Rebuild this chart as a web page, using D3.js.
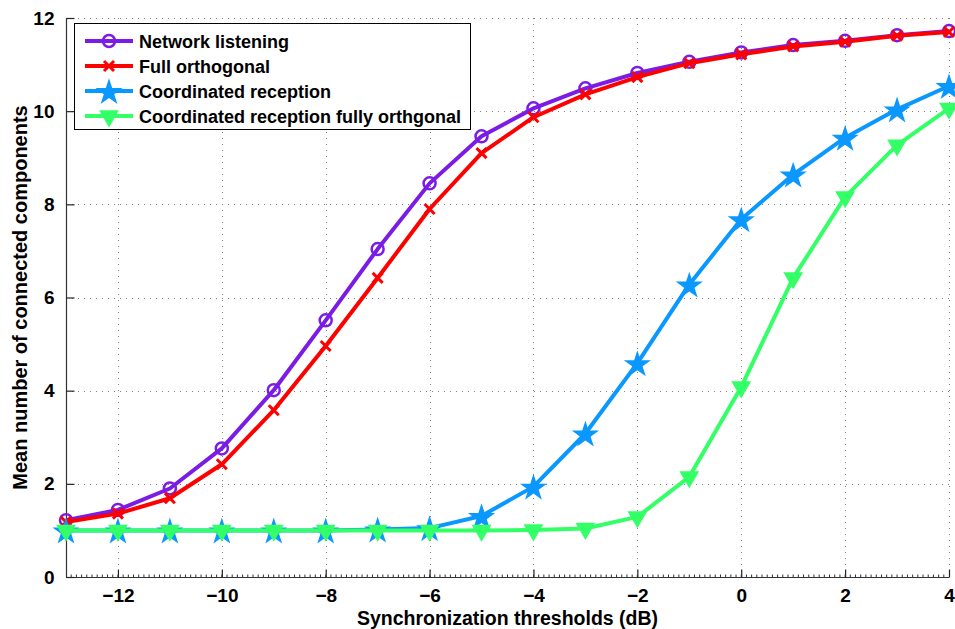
<!DOCTYPE html>
<html>
<head>
<meta charset="utf-8">
<script src="https://cdn.jsdelivr.net/npm/d3@7"></script>
<style>
  body { margin: 0; background: #fff; }
  text { font-family: "Liberation Sans", Arial, sans-serif; font-weight: bold; }
</style>
</head>
<body>
<svg id="chart" width="955" height="629"></svg>
<script>
// data
var thresholds = [-13, -12, -11, -10, -9, -8, -7, -6, -5, -4, -3, -2, -1, 0, 1, 2, 3, 4];

var networkListening = [1.22, 1.44, 1.90, 2.76, 4.01, 5.51, 7.04, 8.45, 9.46, 10.06, 10.49, 10.82, 11.06, 11.26, 11.42, 11.51, 11.63, 11.72];
var fullOrthogonal = [1.18, 1.36, 1.69, 2.42, 3.58, 4.96, 6.42, 7.90, 9.10, 9.87, 10.36, 10.73, 11.03, 11.22, 11.39, 11.49, 11.62, 11.70];
var coordReception = [1.0, 1.0, 1.0, 1.0, 1.0, 1.0, 1.02, 1.05, 1.31, 1.94, 3.08, 4.59, 6.28, 7.68, 8.64, 9.43, 10.04, 10.54];
var coordOrthogonal = [1.0, 1.0, 1.0, 1.0, 1.0, 1.0, 1.0, 1.0, 1.0, 1.01, 1.04, 1.29, 2.15, 4.08, 6.42, 8.16, 9.27, 10.06];

var seriesNames = ['Network listening', 'Full orthogonal', 'Coordinated reception', 'Coordinated reception fully orthgonal'];
var seriesColors = ['#7b1ce6', '#ff0000', '#0a98ff', '#33ff66'];
var seriesMarkers = ['circle', 'cross', 'star', 'triangle'];

var xTicks = [-12, -10, -8, -6, -4, -2, 0, 2, 4];
var yTicks = [0, 2, 4, 6, 8, 10, 12];

var series = [networkListening, fullOrthogonal, coordReception, coordOrthogonal].map(function(vals, i) {
    return {
        name: seriesNames[i],
        color: seriesColors[i],
        marker: seriesMarkers[i],
        points: vals.map(function(v, j) { return [thresholds[j], v]; })
    };
});

// layout
var svg = d3.select('#chart'),
    margin = {left: 66, right: 6, top: 18, bottom: 52},
    width = 955 - margin.left - margin.right,
    height = 629 - margin.top - margin.bottom;

var x = d3.scaleLinear().domain([-13, 4]).range([margin.left, margin.left + width]),
    y = d3.scaleLinear().domain([0, 12]).range([margin.top + height, margin.top]);

// grid
var grid = svg.append('g')
    .attr('stroke', '#808080')
    .attr('stroke-width', 1)
    .attr('stroke-dasharray', '1,5');
grid.selectAll('.vgrid').data(xTicks).enter()
  .append('line')
    .attr('x1', function(d) { return Math.round(x(d)) + 0.5; })
    .attr('x2', function(d) { return Math.round(x(d)) + 0.5; })
    .attr('y1', y(0))
    .attr('y2', y(12));
grid.selectAll('.hgrid').data(yTicks.slice(1)).enter()
  .append('line')
    .attr('y1', function(d) { return Math.round(y(d)) + 0.5; })
    .attr('y2', function(d) { return Math.round(y(d)) + 0.5; })
    .attr('x1', x(-13))
    .attr('x2', x(4));

// axes, ticks pointing inward
var fmt = function(d) { return d < 0 ? '\u2212' + Math.abs(d) : d; };

var xAxis = svg.append('g')
    .attr('transform', 'translate(0,' + (Math.round(y(0)) + 0.5) + ')')
    .call(d3.axisBottom(x).tickValues(xTicks).tickSize(-8).tickPadding(13).tickFormat(fmt));
// minor ticks
xAxis.selectAll('.minor').data(d3.range(-129, 40).map(function(d) { return d / 10; })).enter()
  .append('line')
    .attr('x1', function(d) { return x(d); })
    .attr('x2', function(d) { return x(d); })
    .attr('y1', 0)
    .attr('y2', -3)
    .attr('stroke', '#333');

var yAxis = svg.append('g')
    .attr('transform', 'translate(' + (Math.round(x(-13)) + 0.5) + ',0)')
    .call(d3.axisLeft(y).tickValues(yTicks).tickSize(-8).tickPadding(12));

[xAxis, yAxis].forEach(function(ax) {
    ax.select('.domain').attr('stroke', '#333').attr('stroke-width', 1.2);
    ax.selectAll('.tick line').attr('stroke', '#222').attr('stroke-width', 1.2);
    ax.selectAll('text').attr('font-size', 19).attr('fill', '#000')
        .style('font-family', '"Liberation Sans", Arial, sans-serif').style('font-weight', 'bold');
});
xAxis.selectAll('text').attr('dy', '0.62em');
// hide the domain's outer ticks
xAxis.select('.domain').attr('d', 'M' + x(-13) + ',0H' + x(4));
yAxis.select('.domain').attr('d', 'M0,' + y(0) + 'V' + y(12));

// axis labels
svg.append('text')
    .attr('x', x(-4.5))
    .attr('y', 625)
    .attr('text-anchor', 'middle')
    .attr('font-size', 19.5)
    .text('Synchronization thresholds (dB)');
svg.append('text')
    .attr('transform', 'translate(27,' + y(6) + ') rotate(-90)')
    .attr('text-anchor', 'middle')
    .attr('font-size', 20)
    .text('Mean number of connected components');

// markers
var star = d3.symbol().type(d3.symbolStar);
var tri = d3.symbol().type(d3.symbolTriangle);
var drawMarker = function(g, s, px, py) {
    if (s.marker === 'circle') {
        g.append('circle').attr('cx', px).attr('cy', py).attr('r', 6)
            .attr('fill', 'none').attr('stroke', s.color).attr('stroke-width', 2.5);
    } else if (s.marker === 'cross') {
        g.append('path')
            .attr('d', 'M' + (px - 5) + ',' + (py - 5) + 'L' + (px + 5) + ',' + (py + 5) +
                       'M' + (px - 5) + ',' + (py + 5) + 'L' + (px + 5) + ',' + (py - 5))
            .attr('stroke', s.color).attr('stroke-width', 3).attr('fill', 'none');
    } else if (s.marker === 'star') {
        g.append('path').attr('d', star.size(230)())
            .attr('transform', 'translate(' + px + ',' + (py + 1.5) + ')')
            .attr('fill', s.color);
    } else {
        g.append('path').attr('d', tri.size(170)())
            .attr('transform', 'translate(' + px + ',' + py + ') rotate(180)')
            .attr('fill', s.color);
    }
};

var line = d3.line()
    .x(function(d) { return x(d[0]); })
    .y(function(d) { return y(d[1]); });

var plot = svg.append('g');
series.forEach(function(s) {
    var g = plot.append('g');
    g.append('path')
        .datum(s.points)
        .attr('d', line)
        .attr('fill', 'none')
        .attr('stroke', s.color)
        .attr('stroke-width', 4)
        .attr('stroke-linejoin', 'round');
    s.points.forEach(function(p) { drawMarker(g, s, x(p[0]), y(p[1])); });
});

// legend
var legend = svg.append('g');
legend.append('rect')
    .attr('x', 74.5).attr('y', 23.5)
    .attr('width', 396).attr('height', 106)
    .attr('fill', '#fff').attr('stroke', '#000').attr('stroke-width', 1);
series.forEach(function(s, i) {
    var ly = 41 + i * 25;
    var g = legend.append('g');
    g.append('line')
        .attr('x1', 85).attr('x2', 133)
        .attr('y1', ly).attr('y2', ly)
        .attr('stroke', s.color).attr('stroke-width', 4);
    drawMarker(g, s, 109, ly);
    g.append('text')
        .attr('x', 139).attr('y', ly + 6.5)
        .attr('font-size', 18)
        .text(s.name);
});
</script>
</body>
</html>
